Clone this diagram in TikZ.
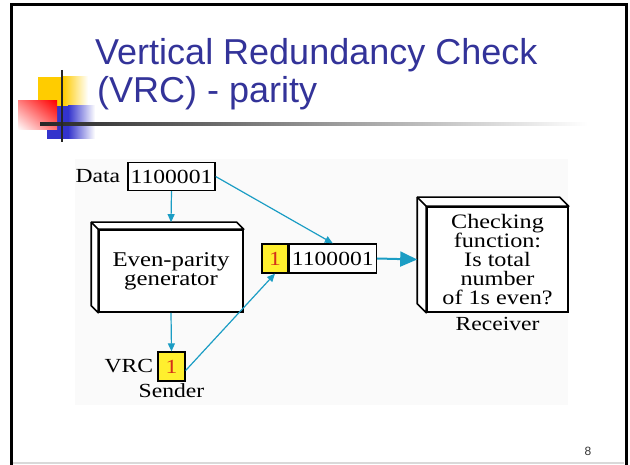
\documentclass[tikz,border=0pt]{standalone}
\usepackage{fontspec}
\setmainfont[FakeStretch=1.18]{Liberation Serif}
\newfontfamily\titlefont{Liberation Sans}
\usetikzlibrary{arrows.meta}
\usetikzlibrary{calc}
\usetikzlibrary{shadings}
\usetikzlibrary{positioning}
\definecolor{titleblue}{HTML}{333399}
\definecolor{flowblue}{HTML}{1B9DC4}
\definecolor{cellyellow}{HTML}{FFEF2E}
\definecolor{bitred}{HTML}{D4301A}
\definecolor{decoyellow}{HTML}{FFCC00}
\definecolor{decoblue}{HTML}{3333CC}

\begin{document}
\begin{tikzpicture}[x=1pt,y=-1pt,
  every node/.style={font=\fontsize{20}{22}\selectfont,inner sep=2pt},
  box/.style={draw,line width=1.3pt,fill=white,minimum height=28},
  bitbox/.style={box,fill=cellyellow,text=bitred},
  box3d/.style={draw,line width=1.6pt,fill=white,align=center},
  face/.style={draw,line width=1.6pt,fill=white,line join=round},
  flow/.style={draw=flowblue,line width=1.2pt,-{Triangle[length=8pt,width=7pt]}},
  bigflow/.style={draw=flowblue,line width=2pt,-{Triangle[length=17pt,width=15pt]}}]
\useasboundingbox (0,0) rectangle (630,465);

% slide frame
\fill[black!2] (75,159) rectangle (568,405);
\draw[black!15,line width=1.5] (13,463) -- (624,463);
\draw[line width=3] (11.5,466) -- (11.5,5) -- (626,5) -- (626,466);

% title decoration
\fill[decoyellow] (38,77) rectangle (63,106);
\shade[left color=decoyellow,right color=white] (63,77) rectangle (88,106);
\fill[decoblue] (47,106) rectangle (68,139);
\shade[left color=decoblue,right color=white] (68,106) rectangle (95,139);
\shade[upper right=red,upper left=red!50,lower right=red!55,lower left=white] (18,101) rectangle (57,130);
\shade[left color=black!85,middle color=black!50,right color=white] (40,122.7) rectangle (588,125.5);
\draw[line width=2.5,black!85] (62,70) -- (62,142);

\node[anchor=base west,inner sep=0,text=titleblue,font=\titlefont\fontsize{36}{38}\selectfont] (title-a) at (95,65) {Vertical Redundancy Check};
\node[anchor=base west,inner sep=0,text=titleblue,font=\titlefont\fontsize{36}{38}\selectfont] (title-b) at (97,103) {(VRC) - parity};

% sender
\node[box,minimum width=87] (data) at (171.5,176.5) {1100001};
\node[left=5pt of data] (data-lbl) {Data};
\node[box3d,minimum width=144,minimum height=82,font=\fontsize{21}{19}\selectfont] (gen) at (171,271) {Even-parity\\generator};
\draw[face] (gen.south west) -- ++(-7,-7) |- ($(gen.north east)+(-7,-7)$) -- (gen.north east) -- (gen.north west) -- cycle;
\draw[face] (gen.north west) -- ++(-7,-7);
\node[bitbox,minimum width=27,minimum height=29] (vrc) at (171.5,366.5) {1};
\node[left=2pt of vrc] (vrc-lbl) {VRC};
\node[below=0pt of vrc] (sender) {Sender};

% frame
\node[bitbox,minimum width=26,minimum height=29] (bit) at (275,258.5) {1};
\node[box,minimum width=87,minimum height=29,right=0pt of bit] (word) {1100001};

% receiver
\node[box3d,minimum width=141,minimum height=105,font=\fontsize{20.5}{19}\selectfont] (recv) at (497.5,259.5) {Checking\\function:\\Is total\\number\\of 1s even?};
\draw[face] (recv.south west) -- ++(-9,-9) |- ($(recv.north east)+(-9,-9)$) -- (recv.north east) -- (recv.north west) -- cycle;
\draw[face] (recv.north west) -- ++(-9,-9);
\node[below=2pt of recv] (receiver) {Receiver};

\draw[flow] (data.south) -- ([yshift=7pt]gen.north);
\draw[flow] (gen.south) -- (vrc.north);
\draw[flow] (data.east) -- (word.north);
\draw[flow] ([yshift=-4pt]vrc.east) -- (bit.south);
\draw[bigflow] (word.east) -- ([xshift=-9pt]recv.west);

\node[font=\titlefont\fontsize{12}{14}\selectfont,text=black!80] (page) at (588,451) {8};
\end{tikzpicture}
\end{document}
